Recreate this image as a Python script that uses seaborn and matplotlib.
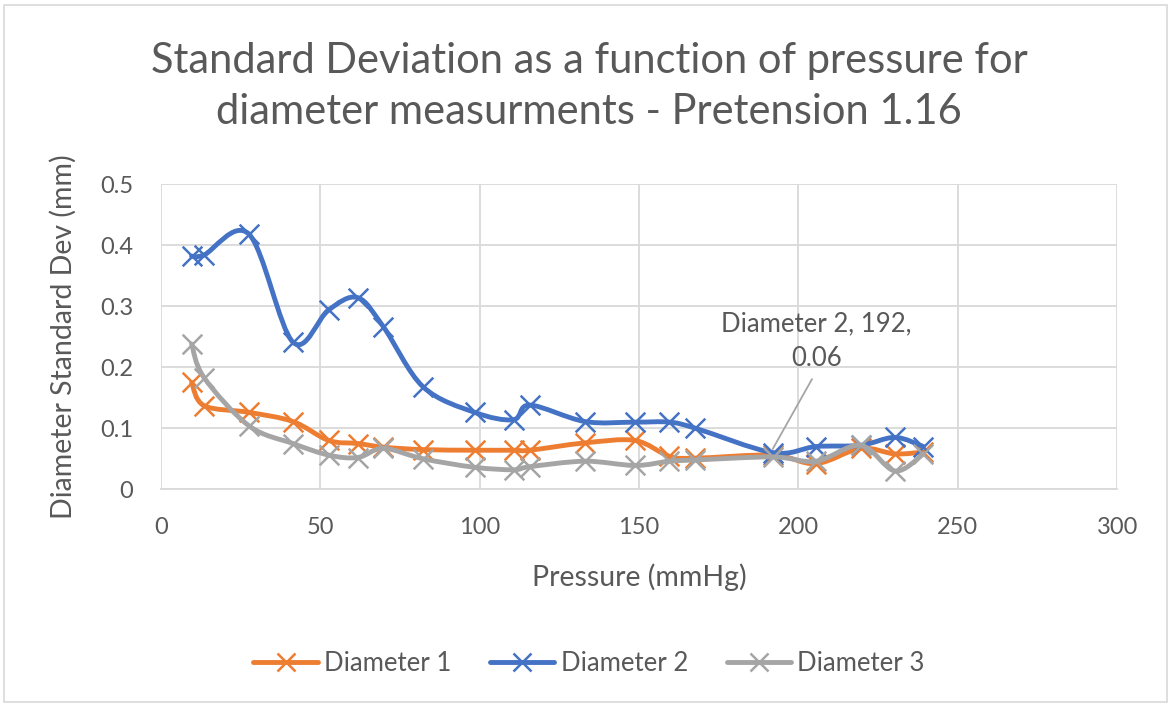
import numpy as np
import pandas as pd
import matplotlib
matplotlib.use("Agg")
import matplotlib.pyplot as plt
from matplotlib.path import Path
from matplotlib.patches import PathPatch, Rectangle
from matplotlib.lines import Line2D
import seaborn as sns

pressure = [9.6, 13.5, 27.6, 41.4, 52.6, 61.7, 69.8, 82.2, 98.4, 110.6,
            115.7, 133.0, 148.7, 159.5, 167.7, 192.0, 205.5, 219.5, 230.3, 239.2]
diameter1 = [0.175, 0.137, 0.126, 0.111, 0.080, 0.075, 0.069, 0.065, 0.064, 0.064,
             0.064, 0.076, 0.080, 0.054, 0.051, 0.056, 0.042, 0.067, 0.058, 0.061]
diameter2 = [0.382, 0.384, 0.418, 0.241, 0.294, 0.314, 0.266, 0.168, 0.126, 0.114,
             0.138, 0.111, 0.110, 0.110, 0.100, 0.060, 0.070, 0.072, 0.085, 0.070]
diameter3 = [0.238, 0.183, 0.104, 0.075, 0.056, 0.052, 0.067, 0.050, 0.036, 0.032,
             0.037, 0.046, 0.039, 0.046, 0.048, 0.053, 0.046, 0.072, 0.030, 0.058]
series_names = ["Diameter 1", "Diameter 2", "Diameter 3"]
colors = ["#ED7D31", "#4472C4", "#A5A5A5"]
x_ticks = [0, 50, 100, 150, 200, 250, 300]
y_ticks = [0, 0.1, 0.2, 0.3, 0.4, 0.5]
y_tick_labels = ["0", "0.1", "0.2", "0.3", "0.4", "0.5"]

df = pd.DataFrame({"Pressure": pressure * 3,
                   "Std": diameter1 + diameter2 + diameter3,
                   "Series": sum([[n] * len(pressure) for n in series_names], [])})

sns.set_theme(style="white")
plt.rcParams["font.family"] = ["Lato", "DejaVu Sans"]
text_color = "#595959"
grid_color = "#D9D9D9"

fig = plt.figure(figsize=(11.71, 7.04), dpi=100)
ax = fig.add_axes([0.1375, 0.305, 0.8165, 0.4335])


def smooth_path(xs, ys):
    pts = np.column_stack([xs, ys])
    n = len(pts)
    verts = [pts[0]]
    codes = [Path.MOVETO]
    for i in range(n - 1):
        p0 = pts[i - 1] if i > 0 else pts[i]
        p1 = pts[i]
        p2 = pts[i + 1]
        p3 = pts[i + 2] if i + 2 < n else pts[i + 1]
        c1 = p1 + (p2 - p0) / 6.0
        c2 = p2 - (p3 - p1) / 6.0
        verts += [c1, c2, p2]
        codes += [Path.CURVE4] * 3
    return Path(verts, codes)


for name, col, z in zip(series_names, colors, [3, 4, 5]):
    sub = df[df["Series"] == name]
    patch = PathPatch(smooth_path(sub["Pressure"].values, sub["Std"].values),
                      facecolor="none", edgecolor=col, lw=3.5, zorder=z,
                      capstyle="round", joinstyle="round")
    ax.add_patch(patch)
    sns.scatterplot(data=sub, x="Pressure", y="Std", marker="x", s=200,
                    color=col, linewidth=1.8, ax=ax, zorder=z, legend=False)

ax.set_xlim(0, 300)
ax.set_ylim(0, 0.5)
ax.set_xticks(x_ticks)
ax.set_yticks(y_ticks)
ax.set_yticklabels(y_tick_labels)
ax.grid(True, color=grid_color, lw=1.3)
ax.set_axisbelow(True)
for s in ["top", "right", "left"]:
    ax.spines[s].set_visible(False)
ax.spines["bottom"].set_color(grid_color)
ax.spines["bottom"].set_linewidth(1.3)
ax.tick_params(axis="both", length=0, labelsize=17, colors=text_color, pad=20)
ax.set_xlabel("Pressure (mmHg)", fontsize=20.5, color=text_color, labelpad=18)
ax.set_ylabel("Diameter Standard Dev (mm)", fontsize=20.5, color=text_color, labelpad=17)

fig.suptitle("Standard Deviation as a function of pressure for\ndiameter measurments - Pretension 1.16",
             x=0.503, y=0.877, va="center", fontsize=30, color=text_color,
             linespacing=1.41)

# data label with leader line
ax.annotate("Diameter 2, 192,\n0.06", xy=(191.5, 0.062), xytext=(205.7, 0.243),
            ha="center", va="center", fontsize=18.5, color=text_color,
            linespacing=1.5,
            arrowprops=dict(arrowstyle="-", color="#A5A5A5", lw=1.3,
                            relpos=(0.5, 0.0), shrinkA=4, shrinkB=2))

handles = [Line2D([0], [0], color=c, lw=3.5, marker="x", markersize=13,
                  markeredgewidth=1.8) for c in colors]
fig.legend(handles, series_names, loc="center", bbox_to_anchor=(0.503, 0.058),
           ncol=3, frameon=False, fontsize=18.5, handlelength=2.5,
           columnspacing=1.5, handletextpad=0.25, labelcolor=text_color)

fig.patches.append(Rectangle((0.003, 0.003), 0.994, 0.99, transform=fig.transFigure,
                             fill=False, edgecolor=grid_color, lw=1.2))

fig.savefig("out.png", dpi=100)
